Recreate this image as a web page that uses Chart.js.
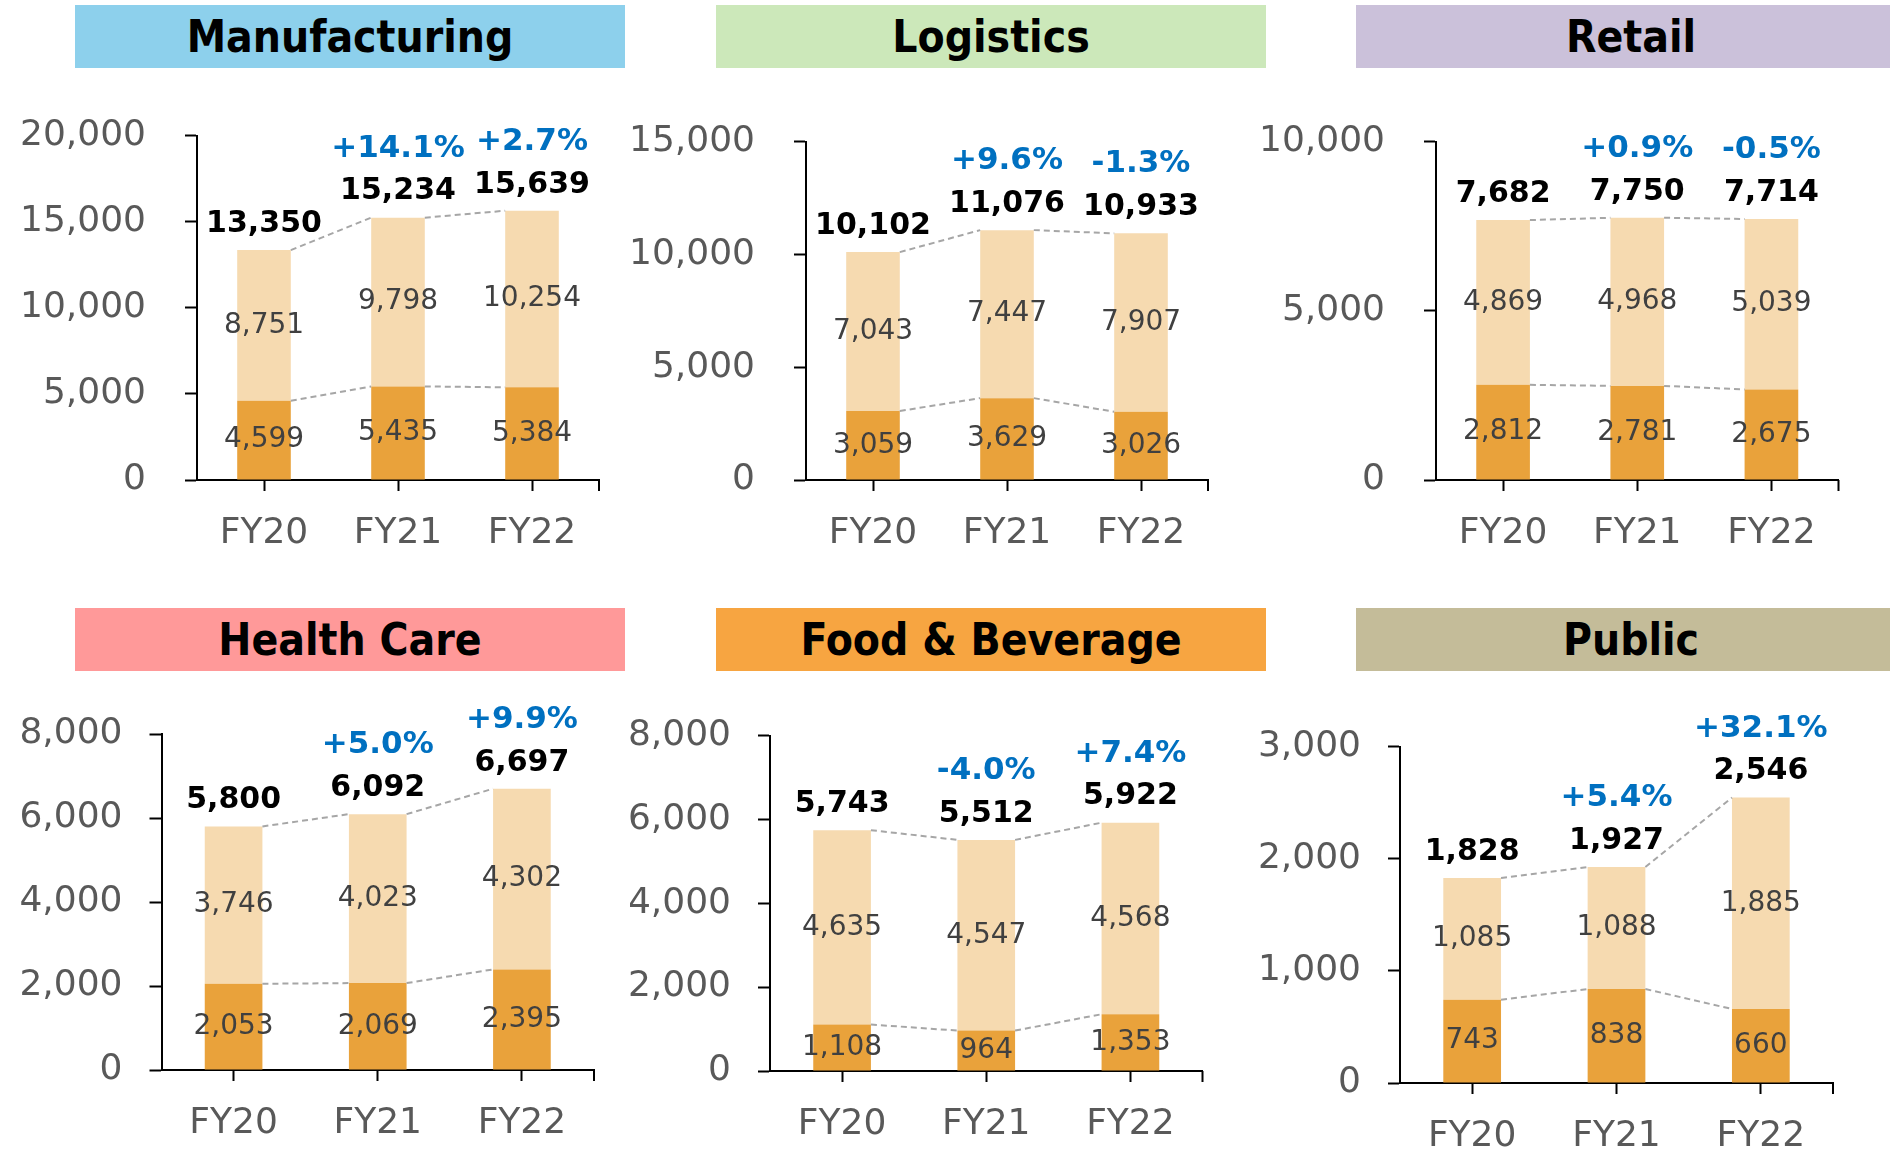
<!DOCTYPE html>
<html>
<head>
<meta charset="utf-8">
<script src="https://cdn.jsdelivr.net/npm/chart.js@4.4.1/dist/chart.umd.min.js"></script>
<style>
  html, body { margin: 0; padding: 0; background: #fff; }
  body { width: 1890px; height: 1150px; overflow: hidden; position: relative; }
  .title {
    position: absolute; width: 550px; height: 63px;
    display: flex; align-items: center; justify-content: center;
    font-family: "DejaVu Sans Condensed", "DejaVu Sans", sans-serif;
    font-stretch: condensed; font-weight: bold; font-size: 44px; color: #000;
  }
  canvas { position: absolute; }
</style>
</head>
<body>
<script>
// categories
var categories = ["FY20", "FY21", "FY22"];

// series values, one set per panel
var mfgBase = [4599, 5435, 5384];
var mfgUpper = [8751, 9798, 10254];
var mfgTotal = [13350, 15234, 15639];
var mfgGrowth = ["", "+14.1%", "+2.7%"];

var logBase = [3059, 3629, 3026];
var logUpper = [7043, 7447, 7907];
var logTotal = [10102, 11076, 10933];
var logGrowth = ["", "+9.6%", "-1.3%"];

var retBase = [2812, 2781, 2675];
var retUpper = [4869, 4968, 5039];
var retTotal = [7682, 7750, 7714];
var retGrowth = ["", "+0.9%", "-0.5%"];

var hcBase = [2053, 2069, 2395];
var hcUpper = [3746, 4023, 4302];
var hcTotal = [5800, 6092, 6697];
var hcGrowth = ["", "+5.0%", "+9.9%"];

var fbBase = [1108, 964, 1353];
var fbUpper = [4635, 4547, 4568];
var fbTotal = [5743, 5512, 5922];
var fbGrowth = ["", "-4.0%", "+7.4%"];

var pubBase = [743, 838, 660];
var pubUpper = [1085, 1088, 1885];
var pubTotal = [1828, 1927, 2546];
var pubGrowth = ["", "+5.4%", "+32.1%"];

// panel titles and y axis ticks
var panelTitles = ["Manufacturing", "Logistics", "Retail", "Health Care", "Food & Beverage", "Public"];
var axisMax = [20000, 15000, 10000, 8000, 8000, 3000];
var axisStep = [5000, 5000, 5000, 2000, 2000, 1000];

var baseSeries = [mfgBase, logBase, retBase, hcBase, fbBase, pubBase];
var upperSeries = [mfgUpper, logUpper, retUpper, hcUpper, fbUpper, pubUpper];
var totalSeries = [mfgTotal, logTotal, retTotal, hcTotal, fbTotal, pubTotal];
var growthSeries = [mfgGrowth, logGrowth, retGrowth, hcGrowth, fbGrowth, pubGrowth];

// layout (pixels)
var titleColors = ["#8DD0EC", "#CCE8BA", "#CBC1DA", "#FF9999", "#F7A541", "#C4BC99"];
var colX = [0, 630, 1260];
var titleX = [75, 716, 1356];
var rows = [
  { titleY: 5, canvasTop: 75, canvasH: 495, gap: 39 },
  { titleY: 608, canvasTop: 680, canvasH: 470, gap: 27 }
];
// axis left, axis right, top, bottom for each panel
var frames = [
  [197, 599, 133, 480],
  [806, 1208, 141.6, 480],
  [1436, 1838.5, 141.6, 480],
  [161.5, 594, 734, 1070],
  [770, 1202.5, 735.5, 1071],
  [1400, 1833, 746.6, 1083]
];

Chart.defaults.font.family = "'DejaVu Sans', sans-serif";

function fmt(v) { return v.toLocaleString("en-US"); }

var barLabels = {
  id: "barLabels",
  afterDatasetsDraw: function(chart) {
    var ctx = chart.ctx;
    var o = chart.options.plugins.barLabels;
    var metas = [chart.getDatasetMeta(0), chart.getDatasetMeta(1)];

    // dashed connectors between bar tops
    ctx.save();
    ctx.strokeStyle = "#A6A6A6";
    ctx.lineWidth = 2;
    ctx.setLineDash([6, 4]);
    metas.forEach(function(meta) {
      for (var i = 0; i < meta.data.length - 1; i++) {
        var a = meta.data[i], b = meta.data[i + 1];
        ctx.beginPath();
        ctx.moveTo(a.x + a.width / 2, a.y);
        ctx.lineTo(b.x - b.width / 2, b.y);
        ctx.stroke();
      }
    });
    ctx.restore();

    // values inside segments
    ctx.save();
    ctx.textAlign = "center";
    ctx.textBaseline = "middle";
    ctx.font = "28px 'DejaVu Sans'";
    ctx.fillStyle = "#404040";
    metas.forEach(function(meta, d) {
      meta.data.forEach(function(bar, i) {
        ctx.fillText(fmt(chart.data.datasets[d].data[i]), bar.x, (bar.y + bar.base) / 2);
      });
    });

    // totals and growth rates
    metas[1].data.forEach(function(bar, i) {
      ctx.font = "bold 30px 'DejaVu Sans'";
      ctx.fillStyle = "#000";
      ctx.fillText(fmt(o.totals[i]), bar.x, bar.y - 26);
      if (o.growth[i]) {
        ctx.font = "bold 31px 'DejaVu Sans'";
        ctx.fillStyle = "#0070C0";
        ctx.fillText(o.growth[i], bar.x, bar.y - 26 - 43);
      }
    });

    // tick at the right end of the category axis
    var xs = chart.scales.x;
    ctx.strokeStyle = "#000";
    ctx.lineWidth = 2;
    ctx.beginPath();
    ctx.moveTo(xs.right, xs.top);
    ctx.lineTo(xs.right, xs.top + 11);
    ctx.stroke();
    ctx.restore();
  }
};

panelTitles.forEach(function(name, p) {
  var col = p % 3, row = rows[Math.floor(p / 3)];
  var f = frames[p];
  var x0 = colX[col];

  var t = document.createElement("div");
  t.className = "title";
  t.style.left = titleX[col] + "px";
  t.style.top = row.titleY + "px";
  t.style.background = titleColors[p];
  t.textContent = name;
  document.body.appendChild(t);

  var cv = document.createElement("canvas");
  cv.width = 630;
  cv.height = row.canvasH;
  cv.style.left = x0 + "px";
  cv.style.top = row.canvasTop + "px";
  document.body.appendChild(cv);

  var yWidth = f[0] - x0;
  var xHeight = row.canvasTop + row.canvasH - f[3];

  new Chart(cv, {
    type: "bar",
    data: {
      labels: categories,
      datasets: [{
        data: baseSeries[p],
        backgroundColor: "#E9A23B",
        barPercentage: 0.4,
        categoryPercentage: 1
      }, {
        data: upperSeries[p],
        backgroundColor: "#F6DAB0",
        barPercentage: 0.4,
        categoryPercentage: 1
      }]
    },
    options: {
      responsive: false,
      animation: false,
      layout: {
        padding: { left: 0, top: f[2] - row.canvasTop, right: 630 - (f[1] - x0), bottom: 0 }
      },
      plugins: {
        legend: { display: false },
        tooltip: { enabled: false },
        barLabels: { totals: totalSeries[p], growth: growthSeries[p] }
      },
      scales: {
        x: {
          stacked: true,
          grid: { drawOnChartArea: false, offset: false, tickLength: 11, tickWidth: 2, tickColor: "#000" },
          border: { color: "#000", width: 2 },
          ticks: { color: "#595959", font: { size: 36 }, padding: 21, maxRotation: 0 },
          afterFit: function(s) { s.height = xHeight; }
        },
        y: {
          stacked: true,
          min: 0,
          max: axisMax[p],
          grid: { drawOnChartArea: false, tickLength: 12, tickWidth: 2, tickColor: "#000" },
          border: { color: "#000", width: 2 },
          ticks: {
            stepSize: axisStep[p],
            color: "#595959",
            font: { size: 36 },
            padding: row.gap,
            callback: function(v) { return fmt(v); }
          },
          afterFit: function(s) { s.width = yWidth; }
        }
      }
    },
    plugins: [barLabels]
  });
});
</script>
</body>
</html>
